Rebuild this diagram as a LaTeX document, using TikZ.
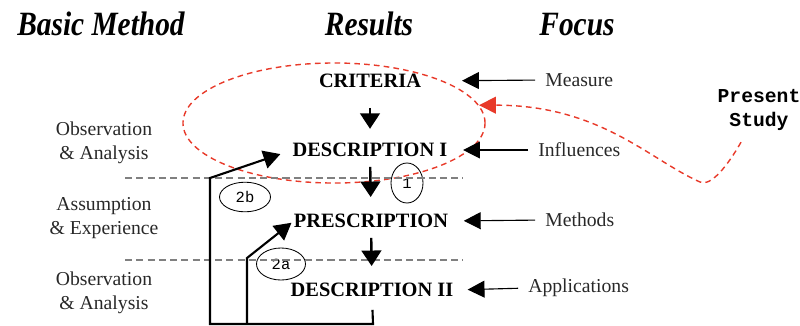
\documentclass[tikz,border=0pt]{standalone}
\usepackage{fontspec}
\setmainfont{Liberation Serif}
\setmonofont{Liberation Mono}
\usetikzlibrary{arrows.meta,positioning,shapes.geometric}
\definecolor{studyred}{RGB}{232,58,42}
\definecolor{ink}{RGB}{40,40,40}
\begin{document}
\begin{tikzpicture}[
    x=0.025cm, y=-0.025cm,
    head/.style={
      font=\fontsize{22}{24}\selectfont\bfseries\itshape,
      inner sep=0pt, anchor=base
    },
    res/.style={
      font=\fontsize{14.5}{17}\selectfont\bfseries,
      inner sep=0pt
    },
    meth/.style={
      align=center,
      font=\fontsize{14}{17}\selectfont,
      text=ink, inner sep=0pt
    },
    foc/.style={
      font=\fontsize{14}{17}\selectfont,
      text=ink, inner sep=0pt, anchor=west
    },
    tag/.style={
      draw, ellipse, line width=0.6pt,
      font=\ttfamily\fontsize{11}{12}\selectfont,
      inner sep=0pt
    },
    down/.style={
      -{Triangle[length=11pt,width=14pt]},
      line width=1.7pt
    },
    side/.style={
      -{Triangle[length=12pt,width=12pt]},
      line width=0.8pt, shorten <=7pt
    },
    feed/.style={
      -{Triangle[length=12pt,width=13pt]},
      line width=1.5pt
    },
    sep/.style={
      draw=gray, dash pattern=on 5pt off 3pt, line width=0.9pt
    },
    study/.style={
      draw=studyred, dash pattern=on 4pt off 3pt, line width=1pt
    }
  ]
  \useasboundingbox (0,0) rectangle (800,325);

  \node[head] (hmeth) at (101,35) {\scalebox{0.95}[1.1]{Basic Method}};
  \node[head] (hres) at (369,35) {\scalebox{0.95}[1.1]{Results}};
  \node[head] (hfoc) at (577,35) {\scalebox{0.95}[1.1]{Focus}};

  \node[res] (crit) at (370,81) {CRITERIA};
  \node[res] (descI) at (370,150) {DESCRIPTION I};
  \node[res] (presc) at (371,221) {PRESCRIPTION};
  \node[res] (descII) at (372,290) {DESCRIPTION II};

  \node[meth] (obsA) at (104,143) {Observation\\\& Analysis};
  \node[meth] (assum) at (104,218) {Assumption\\\& Experience};
  \node[meth] (obsB) at (104,293) {Observation\\\& Analysis};

  \node[foc] (meas) at (545,80) {Measure};
  \node[foc] (infl) at (538,150) {Influences};
  \node[foc] (meths) at (545,220) {Methods};
  \node[foc] (appl) at (528,288) {Applications};

  \node[tag, minimum width=0.8cm, minimum height=1cm] (t1) at (407,183) {1};
  \node[tag, minimum width=1.275cm, minimum height=0.74cm] (t2b) at (245,197) {2b};
  \node[tag, minimum width=1.225cm, minimum height=0.8cm] (t2a) at (281,264) {2a};

  \node[font=\ttfamily\bfseries\fontsize{14}{17.5}\selectfont, align=center,
    inner sep=0pt] (ps) at (759,110) {Present\\Study};

  \node[study, ellipse, minimum width=7.55cm, minimum height=3cm] (area) at (334,123) {};

  \coordinate (sepAl) at (125,178);
  \coordinate (sepAr) at (463,178);
  \coordinate (sepBl) at (125,260);
  \coordinate (sepBr) at (463,260);
  \draw[sep] (sepAl) -- (sepAr);
  \draw[sep] (sepBl) -- (sepBr);

  \draw[down, shorten <=14pt, shorten >=10pt] (crit) -- (descI);
  \draw[down, shorten <=7pt, shorten >=12pt] (descI) -- (presc);
  \draw[down, shorten <=7pt, shorten >=12pt] (presc) -- (descII);

  \draw[side, shorten >=29pt] (meas.west) -- (crit.east);
  \draw[side, shorten >=11pt] (infl.west) -- (descI.east);
  \draw[side, shorten >=11pt] (meths.west) -- (presc.east);
  \draw[side, shorten >=10pt] (appl.west) -- (descII.east);

  \coordinate (b0) at (373,324);
  \coordinate (b2b) at (210,324);
  \coordinate (k2b) at (210,178);
  \coordinate (b2a) at (247,324);
  \coordinate (k2a) at (247,258);
  \draw[feed, shorten <=9pt, shorten >=9pt] (descII.south) -- (b0) -- (b2b) -- (k2b) -- (descI.west);
  \draw[feed, shorten >=2pt] (b2a) -- (k2a) -- (presc.west);

  \coordinate (dip) at (700,182);
  \draw[study, -{Triangle[length=12pt,width=12pt,fill=studyred]}]
    ([shift={(-18,11)}]ps.south) .. controls (728,165) and (711,187) .. (dip)
    .. controls (650,160) and (600,105) .. (area.7);
\end{tikzpicture}
\end{document}
